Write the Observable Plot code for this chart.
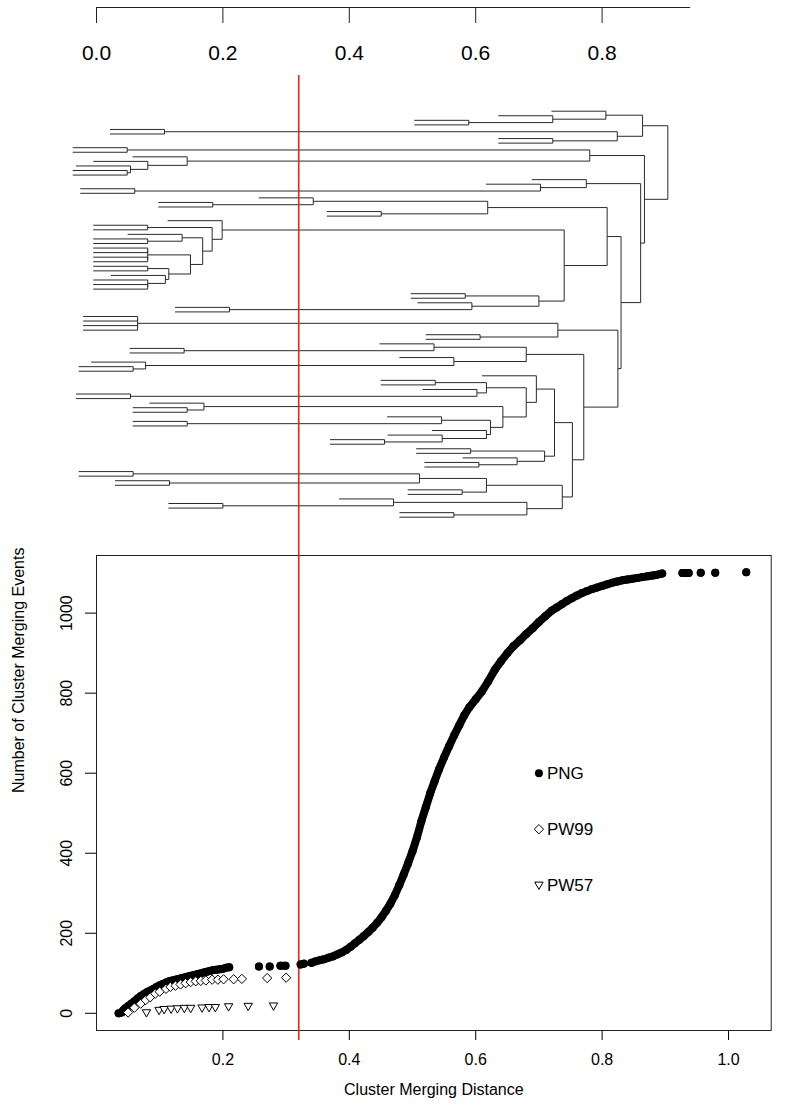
<!DOCTYPE html>
<html><head><meta charset="utf-8">
<script src="https://cdn.jsdelivr.net/npm/d3@7"></script>
<script src="https://cdn.jsdelivr.net/npm/@observablehq/plot@0.6"></script>
<style>
body{margin:0;background:#fff;}
#chart{width:785px;}
#chart svg{display:block;}
</style></head><body><div id="chart"></div>
<script>
// ---------- data ----------
const topAxisTicks = [0, 0.2, 0.4, 0.6, 0.8];
const topAxisEnd = 0.94;
const cutDistance = 0.32;
const leafHang = 0.0862;

// dendrogram clusters: [mergeHeight, child, child]; numbers are leaves (top to bottom)
const cT1 = [0.806, 0, [0.722, 1, [0.589, 2, 3]]];
const cT2 = [0.824, [0.1076, 4, 5], [0.722, 6, 7]];
const cB = [0.7805, [0.0486, 8, 9], [0.1435, 10, [0.0812, 11, [0.0538, 12, [0.0486, 13, 14]]]]];
const cC = [0.775, 15, [0.7025, 16, [0.0605, 17, 18]]];
const cD = [0.619, [0.343, 19, [0.184, 20, 21]], [0.4506, 22, 23]];
const cE1a = [0.1144, [0.081, 34, 35], [0.109, 36, [0.081, 37, [0.081, 38, 39]]]];
const cE1b = [0.1487, [0.081, [0.081, 30, 31], [0.081, 32, 33]], cE1a];
const cE1 = [0.1988, 24, [0.183, [0.081, 25, 26], [0.168, [0.1355, 27, [0.081, 28, 29]], cE1b]]];
const cE2 = [0.700, [0.5835, 40, 41], [0.594, 42, [0.2105, 43, 44]]];
const cF = [0.730, [0.065, [0.065, 45, 46], [0.065, 47, 48]], [0.607, 49, 50]];
const cGtop = [0.68, [0.534, 51, [0.1386, 52, 53]], [0.5655, 54, [0.0777, 55, [0.058, 56, 57]]]];
const cP1c = [0.617, [0.536, 59, 60], [0.602, 61, [0.0538, 62, 63]]];
const cP1e = [0.6234, [0.546, 67, [0.1435, 68, 69]], [0.617, 70, [0.547, 71, [0.4557, 72, 73]]]];
const cP1 = [0.696, 58, [0.68, cP1c, [0.643, [0.17, 64, [0.1435, 65, 66]], cP1e]]];
const cP2 = [0.709, [0.592, 74, 75], [0.6655, 76, [0.605, 77, 78]]];
const cQ = [0.737, [0.617, [0.511, [0.058, 79, 80], [0.1155, 81, 82]], [0.5786, 83, 84]],
                   [0.681, [0.47, 85, [0.2, 86, 87]], [0.5655, 88, 89]]];
const cG = [0.771, cGtop, [0.753, [0.7247, cP1, cP2], cQ]];
const cN1 = [0.830, [0.808, cD, [0.740, cE1, cE2]], [0.825, cF, cG]];
const tree = [0.904, [0.864, cT1, cT2], [0.867, cB, [0.861, cC, cN1]]];

// scatter series: cluster merging distance vs cumulative number of merging events
const pngDistance = [0.035,0.040,0.042,0.045,0.050,0.055,0.060,0.065,0.070,0.075,0.080,0.085,0.090,0.095,0.100,0.105,0.110,0.115,0.120,0.125,0.130,0.135,0.140,0.145,0.150,0.155,0.160,0.165,0.170,0.175,0.180,0.185,0.190,0.195,0.200,0.205,0.210,
  0.257,0.274,0.291,0.299,0.323,0.328,
  0.340,0.347,0.354,0.360,0.367,0.374,0.381,0.388,0.395,0.402,0.409,0.416,0.423,0.430,0.437,0.444,0.451,0.458,0.465,0.472,0.479,0.486,0.493,0.500,
  0.507,0.514,0.521,0.528,0.535,0.542,0.550,0.558,0.566,0.574,0.582,0.590,0.600,0.610,0.620,0.630,0.640,0.650,0.660,0.670,0.680,0.690,0.700,0.710,0.720,
  0.728,0.736,0.744,0.752,0.760,0.768,0.776,0.784,0.792,0.800,0.808,0.816,0.824,0.832,0.840,0.848,0.856,0.864,0.872,0.880,0.887,
  0.895,0.927,0.937,0.956,0.979,1.028];
const pngCount = [0,2,7,12,18,24,30,37,43,48,53,57,61,66,70,73,77,80,82,84,86,88,90,92,94,96,98,100,102,104,106,108,109,110,111,114,115,
  117,117,119,119,122,124,
  126,130,133,135,139,142,147,152,158,166,175,184,193,203,214,226,240,256,274,295,320,347,375,405,
  440,480,515,550,580,610,640,668,695,720,745,765,785,805,830,858,880,900,918,932,948,962,978,992,1006,
  1014,1022,1030,1037,1044,1050,1055,1060,1064,1068,1072,1076,1079,1082,1084,1086,1088,1090,1092,1094,1096,
  1099,1100,1100,1101,1101,1102];
const pw99Distance = [0.050,0.060,0.070,0.078,0.085,0.093,0.100,0.110,0.117,0.125,0.133,0.141,0.149,0.157,0.165,0.173,0.183,0.192,0.201,0.217,0.230,0.270,0.300];
const pw99Count = [2,14,24,33,40,49,54,61,66,69,72,75,78,80,81,82,84,84,85,85,86,88,89];
const pw57Distance = [0.079,0.099,0.107,0.118,0.128,0.139,0.149,0.167,0.178,0.188,0.209,0.240,0.280];
const pw57Count = [1,7,9,10,11,12,12,13,14,14,16,17,18];

const bottomXTicks = [0.2, 0.4, 0.6, 0.8, 1.0];
const bottomYTicks = [0, 200, 400, 600, 800, 1000];
const legendNames = ["PNG", "PW99", "PW57"];

// ---------- helpers ----------
const RED = "#e3261f";
const FONT = "'Liberation Sans', Arial, Helvetica, sans-serif";

function dendrogramSegments(root) {
  const segs = [];
  let counter = 0;
  function walk(node, parentH) {
    if (!Array.isArray(node)) {
      const y = counter++;
      segs.push({x1: parentH - leafHang, x2: parentH, y1: y, y2: y});
      return {y};
    }
    const [h, ...kids] = node;
    const ys = kids.map(k => {
      const r = walk(k, h);
      if (r.h !== undefined) segs.push({x1: r.h, x2: h, y1: r.y, y2: r.y});
      return r.y;
    });
    segs.push({x1: h, x2: h, y1: ys[0], y2: ys[ys.length - 1]});
    return {y: (ys[0] + ys[ys.length - 1]) / 2, h};
  }
  walk(root, null);
  return {segs, n: counter};
}

const {segs, n: leafCount} = dendrogramSegments(tree);

const png = pngDistance.map((d, i) => ({x: d, y: pngCount[i]}));
let seg = 0;
png.forEach((p, i) => { if (i > 0 && p.x - png[i - 1].x > 0.0105) seg++; p.seg = seg; });
const pw99 = pw99Distance.map((d, i) => ({x: d, y: pw99Count[i]}));
const pw57 = pw57Distance.map((d, i) => ({x: d, y: pw57Count[i]}));

const triangleDown = {
  draw(context, size) {
    const s = Math.sqrt(size / Math.PI);
    context.moveTo(0, s);
    context.lineTo(-s, -s * 0.75);
    context.lineTo(s, -s * 0.75);
    context.closePath();
  }
};

const chart = document.getElementById("chart");

// ---------- top axis ----------
const axisPlot = Plot.plot({
  width: 785, height: 70,
  marginLeft: 96, marginRight: 57, marginTop: 0, marginBottom: 63,
  style: {fontFamily: FONT, background: "white", overflow: "visible"},
  x: {domain: [0, 1]},
  y: {domain: [0, 1], axis: null},
  marks: [
    Plot.ruleY([{y: 0, x1: 0, x2: topAxisEnd}], {y: "y", x1: "x1", x2: "x2", stroke: "#222", strokeWidth: 1.2}),
    Plot.axisX(topAxisTicks, {anchor: "bottom", tickSize: 16, tickPadding: 22, tickFormat: d3.format(".1f"), fontSize: 21, label: null, stroke: "#222"})
  ]
});
chart.appendChild(axisPlot);

// ---------- dendrogram ----------
const dendro = Plot.plot({
  width: 785, height: 480,
  marginLeft: 96, marginRight: 57, marginTop: 5, marginBottom: 0,
  style: {background: "white", overflow: "visible"},
  x: {domain: [0, 1], axis: null},
  y: {domain: [0, leafCount - 1], range: [40.7, 446.7], axis: null},
  marks: [
    Plot.link(segs, {x1: "x1", y1: "y1", x2: "x2", y2: "y2", stroke: "#2a2a2a", strokeWidth: 1}),
    Plot.ruleX([cutDistance], {stroke: RED, strokeWidth: 1.6})
  ]
});
chart.appendChild(dendro);

// ---------- scatter ----------
const legendX = 0.70, legendTop = 600, legendStep = 140;
const legend = legendNames.map((name, i) => ({name, x: legendX, y: legendTop - i * legendStep}));

const scatter = Plot.plot({
  width: 785, height: 561,
  marginLeft: 96, marginRight: 14.3, marginTop: 5, marginBottom: 81,
  style: {fontFamily: FONT, fontSize: "16px", background: "white", overflow: "visible"},
  x: {domain: [0, 1.0675]},
  y: {domain: [-43, 1144]},
  marks: [
    Plot.frame({stroke: "#222", strokeWidth: 1}),
    Plot.ruleX([cutDistance], {stroke: RED, strokeWidth: 1.6, insetTop: -5, insetBottom: -10}),
    Plot.line(png, {x: "x", y: "y", z: "seg", stroke: "black", strokeWidth: 8, strokeLinecap: "round", strokeLinejoin: "round"}),
    Plot.dot(png, {x: "x", y: "y", r: 4, fill: "black", stroke: "none"}),
    Plot.dot(pw99, {x: "x", y: "y", r: 4.2, symbol: "diamond2", stroke: "black", strokeWidth: 1, fill: "white"}),
    Plot.dot(pw57, {x: "x", y: "y", r: 4.2, symbol: triangleDown, stroke: "black", strokeWidth: 1, fill: "white"}),
    Plot.axisX(bottomXTicks, {anchor: "bottom", tickSize: 10, tickPadding: 13, tickFormat: d3.format(".1f"), fontSize: 16, label: null}),
    Plot.axisY(bottomYTicks, {anchor: "left", tickSize: 11, tickPadding: 14, tickRotate: -90, tickFormat: d3.format("d"), fontSize: 16, label: null}),
    Plot.text(["Cluster Merging Distance"], {frameAnchor: "bottom", dy: 64, fontSize: 16, text: d => d}),
    Plot.text(["Number of Cluster Merging Events"], {frameAnchor: "left", dx: -78, rotate: -90, fontSize: 16, text: d => d}),
    Plot.dot(legend.slice(0, 1), {x: "x", y: "y", r: 4, fill: "black"}),
    Plot.dot(legend.slice(1, 2), {x: "x", y: "y", r: 4.2, symbol: "diamond2", stroke: "black", strokeWidth: 1}),
    Plot.dot(legend.slice(2, 3), {x: "x", y: "y", r: 4.2, symbol: triangleDown, stroke: "black", strokeWidth: 1}),
    Plot.text(legend, {x: "x", y: "y", text: "name", textAnchor: "start", dx: 8, fontSize: 17})
  ]
});
chart.appendChild(scatter);
</script></body></html>
